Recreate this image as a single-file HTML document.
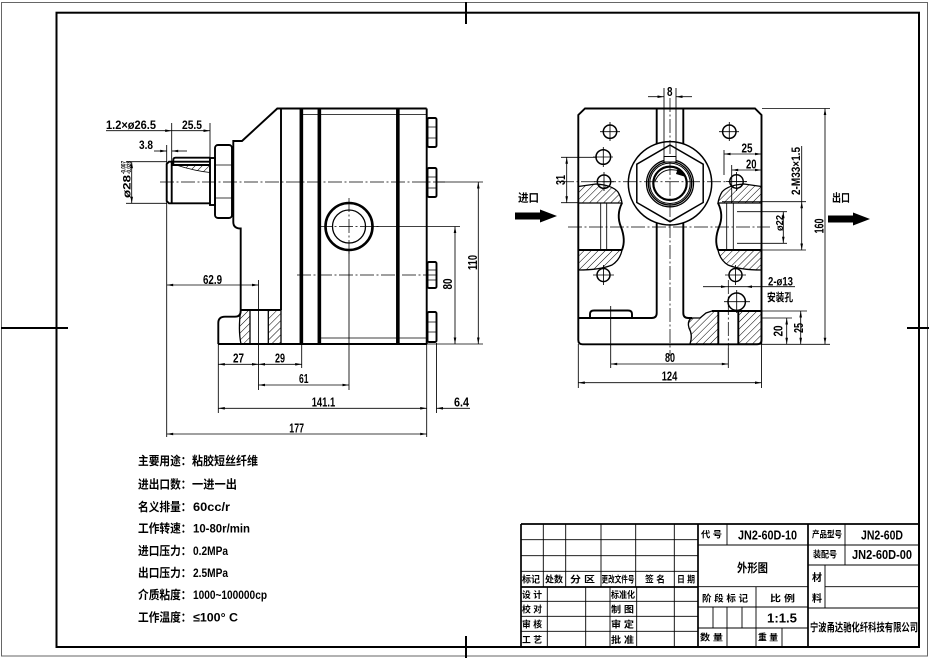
<!DOCTYPE html>
<html><head><meta charset="utf-8"><style>
html,body{margin:0;padding:0;background:#fff}
svg{display:block}
.o{stroke:#000;stroke-width:1.9;fill:none}
.t{stroke:#000;stroke-width:0.85;fill:none}
.c{stroke:#000;stroke-width:0.75;fill:none;stroke-dasharray:14 2.5 2 2.5}
.d{stroke:#000;stroke-width:0.85;fill:none;marker-start:url(#a);marker-end:url(#a)}
.e{stroke:#000;stroke-width:0.85;fill:none;marker-end:url(#a)}
.h{fill:url(#hp);stroke:#000;stroke-width:1.3}
.tb{stroke:#000;stroke-width:0.9;fill:none}
.tk{stroke:#000;stroke-width:1.7;fill:none}
text{font-family:"Liberation Sans","Noto Sans CJK SC",sans-serif;font-weight:bold;fill:#000}
.n{font-size:13px}
.s{font-size:9px}
.m{font-size:12px}
</style></head><body>
<svg width="932" height="661" viewBox="0 0 932 661" xmlns="http://www.w3.org/2000/svg">
<defs>
<marker id="a" viewBox="0 0 10 4" refX="10" refY="2" markerWidth="7" markerHeight="2.6" markerUnits="userSpaceOnUse" orient="auto-start-reverse"><path d="M0,0L10,2L0,4z" fill="#000"/></marker>
<pattern id="hp" patternUnits="userSpaceOnUse" width="5" height="5" patternTransform="rotate(45)"><line x1="0" y1="0" x2="0" y2="5" stroke="#000" stroke-width="1"/></pattern>
</defs>

<!-- frame -->
<rect x="1.5" y="2.5" width="926" height="653.5" stroke="#666" stroke-width="1" fill="none"/>
<rect x="56.5" y="12.7" width="862.5" height="634.3" stroke="#000" stroke-width="2" fill="none"/>
<path d="M466,2V24 M466,636V658 M1,328H68 M907,328H929" stroke="#000" stroke-width="2"/>

<!-- ================= LEFT VIEW ================= -->
<line class="c" x1="160" y1="182" x2="445" y2="182"/>
<line class="t" x1="437" y1="182" x2="483" y2="182"/>
<line class="c" x1="318" y1="226.5" x2="380" y2="226.5"/>
<line class="t" x1="373" y1="226.5" x2="460" y2="226.5"/>
<line class="c" x1="349" y1="198" x2="349" y2="255"/>
<line class="t" x1="349" y1="250" x2="349" y2="390"/>
<line class="c" x1="297" y1="275" x2="437" y2="275"/>

<path class="o" d="M277.3,108.5H426.7 M218.3,344H426.7"/>
<path class="o" d="M281,108.5V310 M300.5,108.5V344 M302.2,108.5V344 M318.5,108.5V344 M320.2,108.5V344 M397,108.5V344 M398.7,108.5V344 M426.7,108.5V344"/>
<path class="t" d="M302,114.5H318.5 M320,114.5H397 M399,114.5H426.5 M320,338H397 M399,338H426.5"/>

<path class="o" d="M281,108.5H277.3L242,141H233.3V222Q233.3,228.5 240.7,228.5V311Q240.7,316.7 235,316.7H225Q218.3,316.7 218.3,323V344"/>
<path class="h" d="M240.7,310H250V344H241Q238,330 240.7,310Z"/>
<path class="h" d="M268.3,310H281V344H268.3Z"/>
<line class="o" x1="240.7" y1="310" x2="281" y2="310"/>

<!-- shaft -->
<path class="o" d="M210,161.7H169L166.7,164V201L169,203.3H210"/>
<line class="o" x1="171.7" y1="161.7" x2="171.7" y2="203.3"/>
<path class="o" d="M210,157.7H175.5Q173.3,157.7 173.3,160V165H210"/>
<path class="h" style="stroke-width:0.8" d="M176,165H210V172.5Q195,171 176,165Z"/>
<rect class="o" x="210" y="158" width="5" height="47"/>
<rect class="o" x="215" y="145" width="17" height="73" rx="3"/>
<path class="t" d="M215,165H232 M215,198H232"/>

<!-- bolts -->
<g class="o">
<rect x="427.5" y="118" width="9" height="29" rx="1.5"/>
<rect x="427.5" y="168" width="9" height="29" rx="1.5"/>
<rect x="427.5" y="262" width="9" height="26" rx="1.5"/>
<rect x="427.5" y="312" width="9" height="30" rx="1.5"/>
</g>
<path class="t" d="M427.5,127H436.5M427.5,138H436.5M427.5,177H436.5M427.5,188H436.5M427.5,270H436.5M427.5,280H436.5M427.5,322H436.5M427.5,332H436.5"/>

<circle cx="349" cy="226.5" r="23.5" fill="none" stroke="#000" stroke-width="2.6"/>
<circle cx="349" cy="226.5" r="16.5" fill="none" stroke="#000" stroke-width="1.3"/>

<!-- left dims -->
<path class="t" d="M126,161.7H166.7 M126,203.3H166.7"/>
<line class="d" x1="131.7" y1="161.7" x2="131.7" y2="203.3"/>
<path class="t" d="M166.7,145V437 M171.7,123V161.7 M210,123V157.7"/>
<line class="e" x1="106" y1="130.7" x2="171.7" y2="130.7"/>
<line class="e" x1="171.7" y1="130.7" x2="210" y2="130.7"/>
<line class="e" x1="154" y1="151" x2="166.7" y2="151"/>
<line class="e" x1="187" y1="151" x2="171.7" y2="151"/>

<line class="d" x1="166.7" y1="285" x2="258.5" y2="285"/>
<path class="t" d="M258.5,280V390 M218.3,344V413 M301.7,344V368 M426.7,344V437 M436.5,343V413"/>
<line class="d" x1="218.3" y1="364.3" x2="258.5" y2="364.3"/>
<line class="d" x1="258.5" y1="364.3" x2="301.7" y2="364.3"/>
<line class="d" x1="258.5" y1="385" x2="349" y2="385"/>
<line class="d" x1="218.3" y1="408.3" x2="426.7" y2="408.3"/>
<line class="e" x1="470" y1="408.3" x2="436.5" y2="408.3"/>
<line class="d" x1="166.7" y1="434" x2="426.7" y2="434"/>
<line class="t" x1="427" y1="344" x2="483" y2="344"/>
<line class="d" x1="455" y1="226.5" x2="455" y2="344"/>
<line class="d" x1="478.3" y1="182" x2="478.3" y2="344"/>

<text class="m" x="106" y="129" textLength="50" lengthAdjust="spacingAndGlyphs">1.2×ø26.5</text>
<text class="m" x="182" y="129" textLength="20" lengthAdjust="spacingAndGlyphs">25.5</text>
<text class="m" x="139" y="149" textLength="14" lengthAdjust="spacingAndGlyphs">3.8</text>
<text transform="translate(130.5,198) rotate(-90)" font-size="11" textLength="23" lengthAdjust="spacingAndGlyphs">ø28</text>
<text transform="translate(125.5,174) rotate(-90)" font-size="6" textLength="13" lengthAdjust="spacingAndGlyphs">-0.007</text>
<text transform="translate(131,174) rotate(-90)" font-size="6" textLength="13" lengthAdjust="spacingAndGlyphs">-0.028</text>
<text class="n" x="203" y="284" textLength="19" lengthAdjust="spacingAndGlyphs">62.9</text>
<text class="n" x="233" y="362.5" textLength="11" lengthAdjust="spacingAndGlyphs">27</text>
<text class="n" x="275" y="362.5" textLength="10" lengthAdjust="spacingAndGlyphs">29</text>
<text class="n" x="299" y="383" textLength="9.5" lengthAdjust="spacingAndGlyphs">61</text>
<text class="n" x="311.7" y="406.5" textLength="23.5" lengthAdjust="spacingAndGlyphs">141.1</text>
<text class="n" x="454" y="406.5" textLength="15" lengthAdjust="spacingAndGlyphs">6.4</text>
<text class="n" x="289.3" y="432.5" textLength="14.7" lengthAdjust="spacingAndGlyphs">177</text>
<text class="n" transform="translate(452,284) rotate(-90)" text-anchor="middle" textLength="11" lengthAdjust="spacingAndGlyphs">80</text>
<text class="n" transform="translate(477,262.5) rotate(-90)" text-anchor="middle" textLength="15" lengthAdjust="spacingAndGlyphs">110</text>

<!-- ================= RIGHT VIEW ================= -->
<line class="c" x1="670" y1="98" x2="670" y2="356"/>
<line class="c" x1="560" y1="181.7" x2="748" y2="181.7"/>
<line class="c" x1="568" y1="227" x2="770" y2="227"/>

<path class="o" d="M585,108.5H755L761.5,115V340Q761.5,344.3 757,344.3H582.5Q578.3,344.3 578.3,340V115Z"/>
<path class="o" d="M656.7,108.5V143.5 M683.3,108.5V143.5"/>
<circle cx="670" cy="183.3" r="41.7" fill="none" stroke="#000" stroke-width="1.5"/>
<polygon points="670,145 703.2,164.2 703.2,202.5 670,221.7 636.8,202.5 636.8,164.2" fill="none" stroke="#000" stroke-width="1.5"/>
<circle cx="670" cy="183.3" r="23.5" fill="none" stroke="#000" stroke-width="1.3"/>
<circle cx="670" cy="183.3" r="21.7" fill="none" stroke="#000" stroke-width="1.3"/>
<circle cx="670" cy="183.3" r="20.2" fill="none" stroke="#000" stroke-width="1"/>
<circle cx="670" cy="183.3" r="16.7" fill="none" stroke="#000" stroke-width="2.2"/>
<rect x="664" y="156.5" width="12" height="5.5" fill="#fff" stroke="#000" stroke-width="1"/>
<path class="t" d="M664,88V158 M676,88V158"/>
<path d="M655,181 Q662,166 680,171" fill="none" stroke="#000" stroke-width="1"/>
<path d="M678,168 L686,177 L676,174Z" fill="#000"/>

<path class="o" d="M656.7,222.8V313Q656.7,318 651.7,318H578.3 M683.3,222.8V313Q683.3,318 688.3,318H692"/>
<path class="o" d="M590,318V314Q590,310.5 594,310.5H628Q632,310.5 632,314V318"/>

<!-- ports -->
<path class="h" d="M578.3,186.5L596,184Q612,185 618,192Q621,197 622,203H578.3Z"/>
<path class="h" d="M578.3,250H622Q620,260 612,265Q600,270 578.3,270Z"/>
<path class="o" d="M578.3,250H622 M622,203Q616,215 621,227Q626,240 622,250"/>
<path class="t" d="M600.7,203V250 M606.7,203V250"/>
<path class="h" d="M761.5,186.5L744,184Q728,185 722,192Q719,197 718,203H761.5Z"/>
<path class="h" d="M761.5,250H718Q720,260 728,265Q740,270 761.5,270Z"/>
<path class="o" d="M761.5,250H718 M718,203Q724,215 719,227Q714,240 718,250"/>
<path class="t" d="M726.7,203V250 M733.3,203V250"/>

<!-- holes -->
<g fill="none" stroke="#000" stroke-width="1.5">
<circle cx="610" cy="131.7" r="6.7"/>
<circle cx="729.3" cy="131.7" r="6.7"/>
<circle cx="603.3" cy="157" r="7.3"/>
<circle cx="604" cy="181.7" r="6.7"/>
<circle cx="736.5" cy="181.5" r="6.7"/>
<circle cx="603.5" cy="275" r="6.5"/>
<circle cx="735.5" cy="275" r="6.5"/>
<circle cx="736.7" cy="301.7" r="8.7"/>
</g>
<path class="t" d="M600,131.7H620M610,122V141 M719,131.7H739M729.3,122V141 M593,157H613M603.3,147V167 M594,181.7H614M604,172V191 M726,181.5H747M736.5,172V191 M593,275H614M603.5,265V285 M725,275H746M735.5,265V285 M724,301.7H750M736.7,290V313"/>

<!-- foot right -->
<path class="h" d="M691,318H700L706,313L712,311H718.3V344H690Q693,335 689,328Q687,322 691,318Z"/>
<rect class="h" x="738.3" y="311" width="23.2" height="33"/>
<path class="o" d="M712,311H761.5 M718.3,311V344 M738.3,311V344"/>
<line class="c" x1="728.3" y1="280" x2="728.3" y2="348"/>

<!-- right dims -->
<line class="e" x1="648" y1="96.7" x2="664" y2="96.7"/>
<line class="e" x1="692" y1="96.7" x2="676" y2="96.7"/>
<path class="t" d="M561,157.3H597 M561,202.7H578"/>
<line class="d" x1="566.7" y1="157.3" x2="566.7" y2="202.7"/>
<path class="t" d="M724,150V175 M731.7,165V203"/>
<line class="d" x1="724" y1="154" x2="761.5" y2="154"/>
<line class="d" x1="731.7" y1="170" x2="761.5" y2="170"/>
<path class="t" d="M722,201.7H806 M722,250H806 M737,211.7H787 M737,243.3H787 M801.7,146V201.7"/>
<line class="d" x1="801.7" y1="201.7" x2="801.7" y2="250"/>
<line class="d" x1="783.3" y1="211.7" x2="783.3" y2="243.3"/>
<path class="t" d="M762,108.5H830 M762,344.3H830 M738,311H807 M761.5,318H792"/>
<line class="d" x1="825" y1="108.5" x2="825" y2="344.3"/>
<line class="d" x1="786.7" y1="318" x2="786.7" y2="344.3"/>
<line class="d" x1="800.7" y1="311" x2="800.7" y2="344.3"/>
<line class="t" x1="703" y1="286.7" x2="795" y2="286.7"/>
<path d="M727,286.7l-6,-1.3v2.6z M746,286.7l6,-1.3v2.6z" fill="#000"/>
<path class="t" d="M610.7,306V368 M728.3,348V368 M578.3,344V388 M761.5,344V388"/>
<line class="d" x1="610.7" y1="364" x2="728.3" y2="364"/>
<line class="d" x1="578.3" y1="382.7" x2="761.5" y2="382.7"/>

<text class="n" x="667" y="96" textLength="5.5" lengthAdjust="spacingAndGlyphs">8</text>
<text class="n" transform="translate(565,180) rotate(-90)" text-anchor="middle" textLength="10" lengthAdjust="spacingAndGlyphs">31</text>
<text class="n" x="741.5" y="152.5" textLength="11" lengthAdjust="spacingAndGlyphs">25</text>
<text class="n" x="746" y="168.5" textLength="10.5" lengthAdjust="spacingAndGlyphs">20</text>
<text class="m" transform="translate(800,171) rotate(-90)" text-anchor="middle" textLength="48" lengthAdjust="spacingAndGlyphs">2-M33×1.5</text>
<text font-size="10" transform="translate(783,223) rotate(-90)" text-anchor="middle" textLength="16" lengthAdjust="spacingAndGlyphs">ø22</text>
<text class="n" transform="translate(823.5,226) rotate(-90)" text-anchor="middle" textLength="15" lengthAdjust="spacingAndGlyphs">160</text>
<text class="n" transform="translate(782.5,331) rotate(-90)" text-anchor="middle" textLength="11" lengthAdjust="spacingAndGlyphs">20</text>
<text class="n" transform="translate(803,328) rotate(-90)" text-anchor="middle" textLength="10" lengthAdjust="spacingAndGlyphs">25</text>
<text class="m" x="768" y="285.5" textLength="25" lengthAdjust="spacingAndGlyphs">2-ø13</text>
<text font-size="11" x="767" y="301" textLength="26" lengthAdjust="spacingAndGlyphs">安装孔</text>
<text class="n" x="665" y="362" textLength="10" lengthAdjust="spacingAndGlyphs">80</text>
<text class="n" x="661.7" y="380.5" textLength="15.6" lengthAdjust="spacingAndGlyphs">124</text>

<!-- inlet / outlet -->
<text font-size="11" x="518" y="201.5" textLength="21" lengthAdjust="spacingAndGlyphs">进口</text>
<rect x="515" y="212.5" width="26" height="7" fill="#000"/>
<polygon points="540,209.5 557,216 540,222.5" fill="#000"/>
<text font-size="11" x="832" y="201.5" textLength="18" lengthAdjust="spacingAndGlyphs">出口</text>
<rect x="828" y="215.5" width="26" height="7" fill="#000"/>
<polygon points="853,212.5 870,219 853,225.5" fill="#000"/>

<!-- ================= SPEC TEXT ================= -->
<g font-size="12">
<text x="138" y="465" textLength="53.5" lengthAdjust="spacingAndGlyphs">主要用途：</text>
<text x="192" y="465" textLength="66" lengthAdjust="spacingAndGlyphs">粘胶短丝纤维</text>
<text x="138" y="488.5" textLength="53.5" lengthAdjust="spacingAndGlyphs">进出口数：</text>
<text x="192" y="488.5" textLength="45" lengthAdjust="spacingAndGlyphs">一进一出</text>
<text x="138" y="511" textLength="53.5" lengthAdjust="spacingAndGlyphs">名义排量：</text>
<text x="193" y="511" textLength="37" lengthAdjust="spacingAndGlyphs">60cc/r</text>
<text x="138" y="532.5" textLength="53.5" lengthAdjust="spacingAndGlyphs">工作转速：</text>
<text x="193" y="532.5" textLength="57" lengthAdjust="spacingAndGlyphs">10-80r/min</text>
<text x="138" y="555" textLength="53.5" lengthAdjust="spacingAndGlyphs">进口压力：</text>
<text x="193" y="555" textLength="35" lengthAdjust="spacingAndGlyphs">0.2MPa</text>
<text x="138" y="577" textLength="53.5" lengthAdjust="spacingAndGlyphs">出口压力：</text>
<text x="193" y="577" textLength="35" lengthAdjust="spacingAndGlyphs">2.5MPa</text>
<text x="138" y="599" textLength="53.5" lengthAdjust="spacingAndGlyphs">介质粘度：</text>
<text x="193" y="599" textLength="74" lengthAdjust="spacingAndGlyphs">1000~100000cp</text>
<text x="138" y="621.5" textLength="53.5" lengthAdjust="spacingAndGlyphs">工作温度：</text>
<text x="193" y="621.5" textLength="45" lengthAdjust="spacingAndGlyphs">≤100° C</text>
</g>

<!-- ================= TITLE BLOCK ================= -->
<path class="tk" d="M521,524H919 M521,524V647 M698,524V647 M808,524V647 M521,587H698"/>
<path class="tb" d="M521,539.7H698 M521,555.7H698 M521,571.3H698 M521,601.3H698 M521,616.3H698 M521,631.3H698
M543.3,524V587 M565.7,524V587 M601,524V587 M635.7,524V587 M674.3,524V587
M547.3,587V647 M585.7,587V647 M610,587V647 M636.7,587V647 M674.3,587V647"/>
<path class="tb" d="M698,545H919 M727,524V545 M845,524V565 M808,565H919 M825,565V608 M825,586.7H919 M808,608H919
M698,586.7H808 M698,607H808 M698,628H808 M756,586.7V647 M713,607V628 M727,607V647 M742,607V628 M782,628V647"/>

<g class="s">
<text x="522" y="582.5" textLength="18" lengthAdjust="spacingAndGlyphs">标记</text>
<text x="545" y="582.5" textLength="18" lengthAdjust="spacingAndGlyphs">处数</text>
<text x="570" y="582.5" textLength="25" lengthAdjust="spacingAndGlyphs">分 区</text>
<text x="601.5" y="582.5" textLength="33" lengthAdjust="spacingAndGlyphs">更改文件号</text>
<text x="645" y="582.5" textLength="20" lengthAdjust="spacingAndGlyphs">签 名</text>
<text x="677" y="582.5" textLength="18" lengthAdjust="spacingAndGlyphs">日 期</text>
<text x="522" y="598" textLength="20" lengthAdjust="spacingAndGlyphs">设 计</text>
<text x="522" y="612.7" textLength="20" lengthAdjust="spacingAndGlyphs">校 对</text>
<text x="522" y="627.7" textLength="20" lengthAdjust="spacingAndGlyphs">审 核</text>
<text x="522" y="643" textLength="20" lengthAdjust="spacingAndGlyphs">工 艺</text>
<text x="611" y="598" textLength="24" lengthAdjust="spacingAndGlyphs">标准化</text>
<text x="611" y="612.7" textLength="23" lengthAdjust="spacingAndGlyphs">制 图</text>
<text x="611" y="627.7" textLength="23" lengthAdjust="spacingAndGlyphs">审 定</text>
<text x="611" y="643" textLength="23" lengthAdjust="spacingAndGlyphs">批 准</text>
<text x="701" y="537.5" textLength="21" lengthAdjust="spacingAndGlyphs">代 号</text>
<text x="812" y="537.5" textLength="30" lengthAdjust="spacingAndGlyphs">产品型号</text>
<text x="813" y="557.5" textLength="24" lengthAdjust="spacingAndGlyphs">装配号</text>
<text x="812" y="581" font-size="10">材</text>
<text x="812" y="602" font-size="10">料</text>
<text x="702" y="601.5" textLength="46" lengthAdjust="spacingAndGlyphs">阶 段 标 记</text>
<text x="770" y="601.5" textLength="25" lengthAdjust="spacingAndGlyphs">比 例</text>
<text x="700" y="640.5" textLength="23" lengthAdjust="spacingAndGlyphs">数 量</text>
<text x="758" y="640.5" textLength="20" lengthAdjust="spacingAndGlyphs">重 量</text>
</g>
<text font-size="13" x="738" y="539.5" textLength="59" lengthAdjust="spacingAndGlyphs">JN2-60D-10</text>
<text font-size="13" x="861" y="539.5" textLength="42" lengthAdjust="spacingAndGlyphs">JN2-60D</text>
<text font-size="13" x="852" y="559" textLength="60" lengthAdjust="spacingAndGlyphs">JN2-60D-00</text>
<text font-size="12" x="737" y="572" textLength="31" lengthAdjust="spacingAndGlyphs">外形图</text>
<text font-size="13" x="767" y="622.5" textLength="30" lengthAdjust="spacingAndGlyphs">1:1.5</text>
<text font-size="11" x="810" y="631" textLength="108" lengthAdjust="spacingAndGlyphs">宁波甬达驰化纤科技有限公司</text>
</svg>
</body></html>
